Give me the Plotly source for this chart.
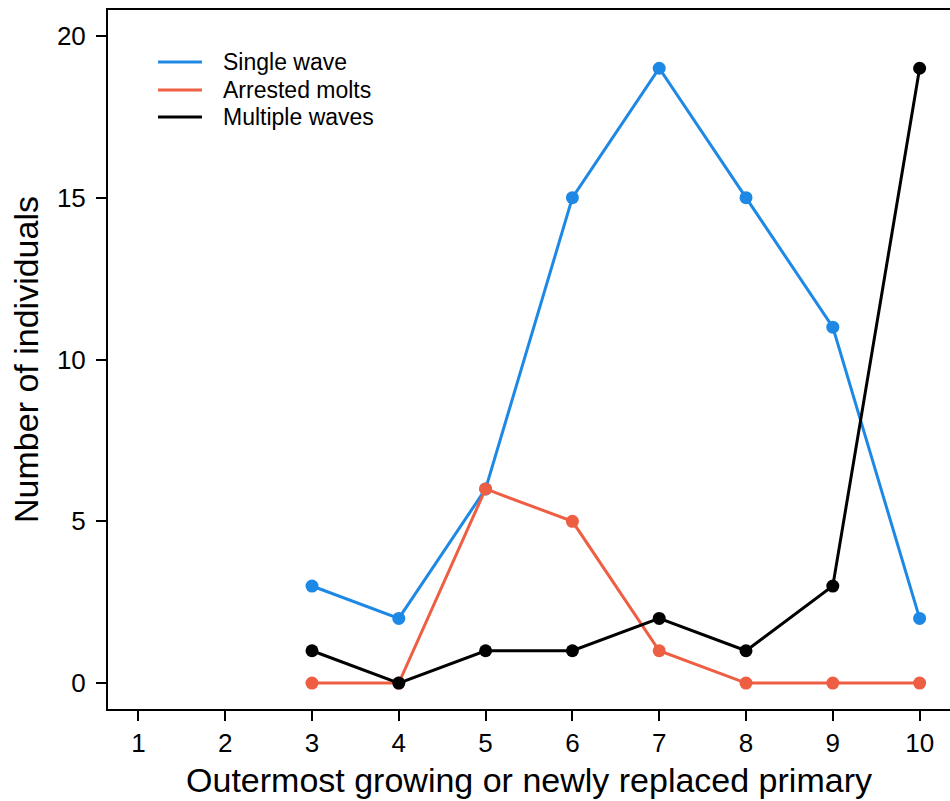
import plotly.graph_objects as go

x_vals = [3, 4, 5, 6, 7, 8, 9, 10]
single_wave = [3, 2, 6, 15, 19, 15, 11, 2]
arrested_molts = [0, 0, 6, 5, 1, 0, 0, 0]
multiple_waves = [1, 0, 1, 1, 2, 1, 3, 19]
x_ticks = [1, 2, 3, 4, 5, 6, 7, 8, 9, 10]
y_ticks = [0, 5, 10, 15, 20]

series = [
    ("Single wave", single_wave, "#1E88E5"),
    ("Arrested molts", arrested_molts, "#EE5E43"),
    ("Multiple waves", multiple_waves, "#000000"),
]

FONT = "Liberation Sans, Arial, Helvetica, sans-serif"
fig = go.Figure()
for name, vals, col in series:
    fig.add_trace(go.Scatter(x=x_vals, y=vals, mode="lines+markers", name=name,
                             line=dict(color=col, width=3),
                             marker=dict(color=col, size=13),
                             showlegend=False))

# manual legend (lines + text), in paper coordinates
leg_y = [0.9256, 0.8856, 0.8469]
for (name, vals, col), yy in zip(series, leg_y):
    fig.add_shape(type="line", xref="paper", yref="paper", x0=0.0594, x1=0.1116,
                  y0=yy, y1=yy, line=dict(color=col, width=3))
    fig.add_annotation(xref="paper", yref="paper", x=0.1342, y=yy, text=name,
                       showarrow=False, xanchor="left", yanchor="middle",
                       font=dict(size=23, family=FONT, color="black"))

fig.update_layout(
    width=950, height=801,
    margin=dict(l=108, r=0, t=10, b=92),
    plot_bgcolor="white", paper_bgcolor="white",
    font=dict(family=FONT, color="black"),
    showlegend=False,
    xaxis=dict(range=[0.65, 10.35], tickvals=x_ticks, ticktext=[str(v) for v in x_ticks],
               showgrid=False, zeroline=False, showline=True, linecolor="black", linewidth=2,
               mirror=True, ticks="outside", ticklen=10, tickwidth=2, tickcolor="black",
               tickfont=dict(size=26, family=FONT),
               title=dict(text="Outermost growing or newly replaced primary",
                          font=dict(size=34, family=FONT), standoff=11)),
    yaxis=dict(range=[-0.8, 20.8], tickvals=y_ticks, ticktext=[str(v) for v in y_ticks],
               showgrid=False, zeroline=False, showline=True, linecolor="black", linewidth=2,
               ticks="outside", ticklen=10, tickwidth=2, tickcolor="black",
               tickfont=dict(size=26, family=FONT), ticklabelstandoff=5,
               title=dict(text="Number of individuals", font=dict(size=34, family=FONT), standoff=8)),
)
fig.write_html("out.html", config={"displayModeBar": False},
               post_script="document.body.style.margin='0';document.body.style.overflow='hidden';")
